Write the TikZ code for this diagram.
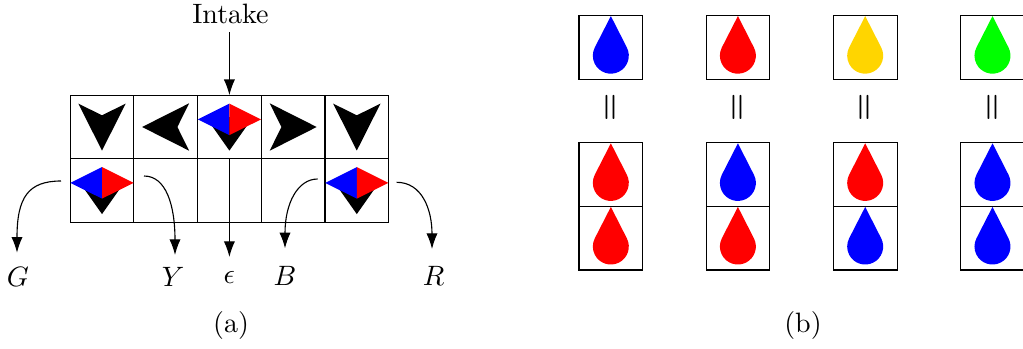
\documentclass[tikz,border=0pt]{standalone}
\usetikzlibrary{arrows.meta}
\definecolor{dropyellow}{RGB}{255,213,0}
\definecolor{dropgreen}{RGB}{0,255,0}
\tikzset{
  x=0.357pt,y=-0.357pt,
  cell/.style={draw=black,line width=0.4pt,minimum size=22.74pt,inner sep=0pt,outer sep=0pt},
  lab/.style={inner sep=0pt,font=\fontsize{10}{12}\selectfont},
  conn/.style={line width=0.4pt,-{Latex[length=5.6pt,width=4pt]}},
  pics/darrow/.style={code={\fill[black] (-23.7,-23.4) -- (0,-11.7) -- (0,-11.7) -- (23.7,-23.4) -- (0,23.6) -- cycle;}},
  pics/split/.style={code={
    \fill[black] (-23.7,-10) -- (23.7,-10) -- (0,23.6) -- cycle;
    \fill[blue] (-31.6,-7.6) -- (0,-23.4) -- (0,8.1) -- cycle;
    \fill[red] (31.6,-7.6) -- (0,-23.4) -- (0,8.1) -- cycle;}},
  pics/drop/.style={code={
    \fill[#1] (0,-31.3) -- (16,0.15) arc[start angle=-27,end angle=207,radius=18] -- cycle;}},
}
\begin{document}
\begin{tikzpicture}
\clip (0,0) rectangle (1023,348);
% grid (a)
\foreach \n/\cx in {1/102,2/165.7,3/229.4,4/293.1,5/356.8}{
  \node[cell] (u\n) at (\cx,127) {};
  \node[cell] (d\n) at (\cx,190.5) {};
}
\pic at (u1) {darrow};
\pic[rotate=-90] at (u2) {darrow};
\pic at (u3) {split};
\pic[rotate=90] at (u4) {darrow};
\pic at (u5) {darrow};
\pic at (d1) {split};
\pic at (d5) {split};
% labels
\node[lab] (intake) at (230.5,14) {Intake};
\node[lab] (lG) at (18,277) {$G$};
\node[lab] (lY) at (173,277) {$Y$};
\node[lab] (le) at (229.4,277) {$\epsilon$};
\node[lab] (lB) at (285,276) {$B$};
\node[lab] (lR) at (433.5,276) {$R$};
\node[lab] (capa) at (231,325) {(a)};
\node[lab] (capb) at (803,325) {(b)};
% connector ends
\coordinate (gs) at (61,181);   \coordinate (ge) at (17,252.7);
\coordinate (ys) at (144,176);  \coordinate (ye) at (175,255);
\coordinate (bs) at (317.7,179);\coordinate (be) at (285,248.3);
\coordinate (rs) at (396.7,182.3);\coordinate (re) at (432,249);
\coordinate (ee) at (229.4,257);
\coordinate (is) at (229.4,32);
\draw[conn] (is) -- (u3.north);
\draw[conn] (d3.north) -- (ee);
\draw[conn] (gs) .. controls +(-33,0) and +(0,-55) .. (ge);
\draw[conn] (ys) .. controls +(22,0) and +(0,-50) .. (ye);
\draw[conn] (bs) .. controls +(-20,0) and +(0,-45) .. (be);
\draw[conn] (rs) .. controls +(25,0) and +(0,-40) .. (re);
% panel (b)
\foreach \n/\cx/\ex/\top/\upper/\lower in {
  1/610.85/612.4/blue/red/red,
  2/737.9/739.5/red/blue/red,
  3/865.2/866.5/dropyellow/red/blue,
  4/992.5/994/dropgreen/blue/blue}{
  \node[cell] (t\n) at (\cx,47.35) {};
  \node[cell] (m\n) at (\cx,174.6) {};
  \node[cell] (b\n) at (\cx,238.2) {};
  \pic at (t\n) {drop=\top};
  \pic at (m\n) {drop=\upper};
  \pic at (b\n) {drop=\lower};
  \node[inner sep=0pt] (e\n) at (\ex,107.5) {\rotatebox{90}{\fontsize{11.5}{12}\bfseries =}};
}
\end{tikzpicture}
\end{document}
